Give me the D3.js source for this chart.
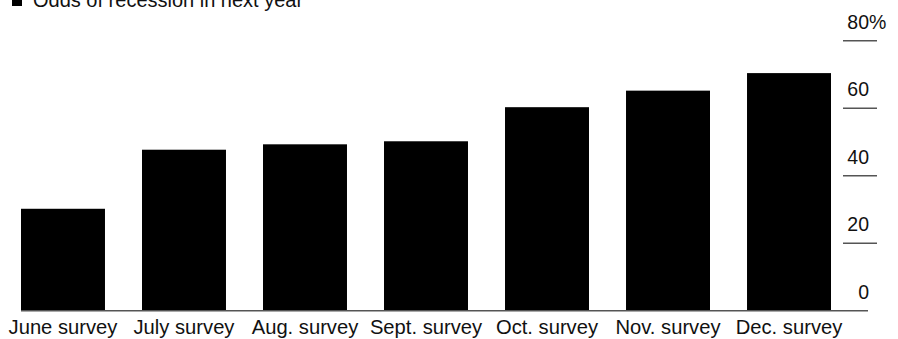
<!DOCTYPE html>
<html>
<head>
<meta charset="utf-8">
<script src="https://cdn.jsdelivr.net/npm/d3@7"></script>
<style>
  body { margin: 0; background: #fff; }
  text { font-family: "Liberation Sans", Arial, sans-serif; fill: #111; }
</style>
</head>
<body>
<div id="chart"></div>
<script>
let surveys = ["June survey", "July survey", "Aug. survey", "Sept. survey", "Oct. survey", "Nov. survey", "Dec. survey"];
let odds = [30.2, 47.7, 49.3, 50.2, 60.3, 65.2, 70.4];
let yTicks = [0, 20, 40, 60, 80];
let legendLabel = "Odds of recession in next year";

let width = 898, height = 339;

let svg = d3.select('#chart')
    .append('svg')
    .attr('width', width)
    .attr('height', height);

let x = d3.scaleBand()
    .domain(surveys)
    .range([21, 831])
    .paddingInner(0.306)
    .paddingOuter(0);

let y = d3.scaleLinear()
    .domain([0, 80])
    .range([310.7, 40.7]);

// gridlines on the right side
svg.append('g')
    .selectAll('line')
    .data(yTicks.filter(function (d) { return d > 0; }))
    .enter()
    .append('line')
    .attr('x1', 843)
    .attr('x2', 877)
    .attr('y1', function (d) { return y(d); })
    .attr('y2', function (d) { return y(d); })
    .style('stroke', '#555')
    .style('stroke-width', 1.5);

// bars
svg.append('g')
    .selectAll('rect')
    .data(odds)
    .enter()
    .append('rect')
    .attr('x', function (d, i) { return x(surveys[i]); })
    .attr('width', x.bandwidth())
    .attr('y', function (d) { return y(d); })
    .attr('height', function (d) { return y(0) - y(d); })
    .style('fill', '#000');

// baseline
svg.append('line')
    .attr('x1', 21)
    .attr('x2', 868)
    .attr('y1', y(0))
    .attr('y2', y(0))
    .style('stroke', '#555')
    .style('stroke-width', 1.5);

// tick labels
svg.append('g')
    .selectAll('text')
    .data(yTicks)
    .enter()
    .append('text')
    .attr('x', 869)
    .attr('y', function (d) { return y(d) - 12; })
    .attr('text-anchor', 'end')
    .attr('font-size', 19.5)
    .text(function (d) { return d; });

svg.append('text')
    .attr('x', 869)
    .attr('y', y(80) - 12)
    .attr('font-size', 19.5)
    .text('%');

// category labels
svg.append('g')
    .selectAll('text')
    .data(surveys)
    .enter()
    .append('text')
    .attr('x', function (d) { return x(d) + x.bandwidth() / 2; })
    .attr('y', 334)
    .attr('text-anchor', 'middle')
    .attr('font-size', 20.2)
    .text(function (d) { return d; });

// legend, cut off at the top as in the source
svg.append('rect')
    .attr('x', 12)
    .attr('y', -4)
    .attr('width', 10)
    .attr('height', 10)
    .style('fill', '#000');

svg.append('text')
    .attr('x', 33)
    .attr('y', 7)
    .attr('font-size', 20)
    .text(legendLabel);
</script>
</body>
</html>
